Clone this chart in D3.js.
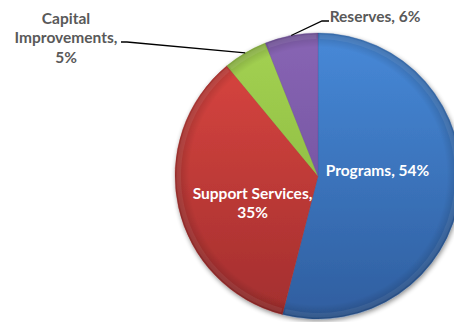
<!DOCTYPE html>
<html>
<head>
<meta charset="utf-8">
<script src="https://cdn.jsdelivr.net/npm/d3@7"></script>
<style>
  html, body { margin: 0; padding: 0; background: #fff; }
  svg { display: block; }
</style>
</head>
<body>
<svg id="chart" width="454" height="322"></svg>
<script>
// Budget allocation by category (percent)
const categories = ["Programs", "Support Services", "Capital Improvements", "Reserves"];
const values = [54, 35, 5, 6];
const colorsLight = ["#4789d8", "#dc4741", "#a4d253", "#8865b4"];
const colorsDark  = ["#2f5e9f", "#a22e2e", "#82b038", "#684995"];

const cx = 318, cy = 176, R = 143;

const svg = d3.select("#chart");
const defs = svg.append("defs");

// soft drop shadow under the pie
const shadow = defs.append("filter").attr("id", "shadow")
  .attr("x", "-20%").attr("y", "-20%").attr("width", "140%").attr("height", "140%");
shadow.append("feGaussianBlur").attr("in", "SourceAlpha").attr("stdDeviation", 2.5).attr("result", "b");
shadow.append("feOffset").attr("in", "b").attr("dx", 1).attr("dy", 2).attr("result", "o");
shadow.append("feComponentTransfer").attr("in", "o").attr("result", "s")
  .append("feFuncA").attr("type", "linear").attr("slope", 0.45);
const merge = shadow.append("feMerge");
merge.append("feMergeNode").attr("in", "s");
merge.append("feMergeNode").attr("in", "SourceGraphic");

// vertical gradient per slice colour (coordinates relative to pie centre)
categories.forEach((c, i) => {
  const lg = defs.append("linearGradient").attr("id", "fill" + i)
    .attr("gradientUnits", "userSpaceOnUse")
    .attr("x1", 0).attr("y1", -R).attr("x2", 0).attr("y2", R);
  lg.append("stop").attr("offset", "0%").attr("stop-color", colorsLight[i]);
  lg.append("stop").attr("offset", "100%").attr("stop-color", colorsDark[i]);
});

// rim bevel: transparent in the middle, darker towards the edge
const rim = defs.append("radialGradient").attr("id", "rim")
  .attr("gradientUnits", "userSpaceOnUse")
  .attr("cx", 0).attr("cy", 0).attr("r", R);
rim.append("stop").attr("offset", "0%").attr("stop-color", "#000").attr("stop-opacity", 0);
rim.append("stop").attr("offset", "90%").attr("stop-color", "#000").attr("stop-opacity", 0);
rim.append("stop").attr("offset", "100%").attr("stop-color", "#000").attr("stop-opacity", 0.2);

const pie = d3.pie().sort(null).value(d => d)
  .startAngle(0).endAngle(2 * Math.PI);
const arcs = pie(values);

const arc = d3.arc().innerRadius(0).outerRadius(R);
const bevel = d3.arc().innerRadius(R - 6).outerRadius(R - 1.5);

const g = svg.append("g").attr("transform", `translate(${cx},${cy})`);

const slices = g.append("g").attr("filter", "url(#shadow)");
slices.selectAll("path.slice").data(arcs).join("path")
  .attr("class", "slice")
  .attr("d", arc)
  .attr("fill", (d, i) => `url(#fill${i})`)
  .attr("stroke", (d, i) => colorsDark[i])
  .attr("stroke-opacity", 0.4)
  .attr("stroke-width", 0.8);

// darker rim over each slice
g.selectAll("path.rim").data(arcs).join("path")
  .attr("class", "rim")
  .attr("d", arc)
  .attr("fill", "url(#rim)");

// faint inner highlight along each slice's outer edge
g.selectAll("path.hl").data(arcs).join("path")
  .attr("class", "hl")
  .attr("d", d => bevel({ startAngle: d.startAngle + 0.012, endAngle: d.endAngle - 0.012 }))
  .attr("fill", "#fff")
  .attr("fill-opacity", 0.07);

// text styling
const font = "Lato, 'Open Sans', sans-serif";
const fontSize = 15.5;
const lineH = 19.5;

function multiline(sel, lines, x, y, fill) {
  const t = sel.append("text")
    .attr("text-anchor", "middle")
    .attr("font-family", font)
    .attr("font-weight", "bold")
    .attr("font-size", fontSize)
    .attr("fill", fill);
  lines.forEach((ln, k) => {
    t.append("tspan").attr("x", x).attr("y", y + k * lineH).text(ln);
  });
  return t;
}

// labels inside the two large slices (offsets from centre)
const inside = [
  { i: 0, lines: [`${categories[0]}, ${values[0]}%`], dx: 59.5, dy: -0.5 },
  { i: 1, lines: [`${categories[1]},`, `${values[1]}%`], dx: -65.5, dy: 22.5 }
];
inside.forEach(o => multiline(g, o.lines, o.dx, o.dy, "#ffffff"));

// outside labels with leader lines
const outside = [
  { i: 2, lines: ["Capital", "Improvements,", `${values[2]}%`], lx: 66 - cx, ly: 23.5 - cy, ex: 127 - cx, ey: 42 - cy, tx: 121 - cx },
  { i: 3, lines: [`${categories[3]}, ${values[3]}%`], lx: 375 - cx, ly: 21.5 - cy, ex: 322 - cx, ey: 21 - cy, tx: 329 - cx }
];
outside.forEach(o => {
  const a = arcs[o.i];
  const mid = (a.startAngle + a.endAngle) / 2;
  const px = Math.sin(mid) * R, py = -Math.cos(mid) * R;
  g.append("polyline")
    .attr("points", [[px, py], [o.ex, o.ey], [o.tx, o.ey]].map(p => p.join(",")).join(" "))
    .attr("fill", "none")
    .attr("stroke", "#000")
    .attr("stroke-width", 1.3);
  multiline(g, o.lines, o.lx, o.ly, "#595959");
});
</script>
</body>
</html>
